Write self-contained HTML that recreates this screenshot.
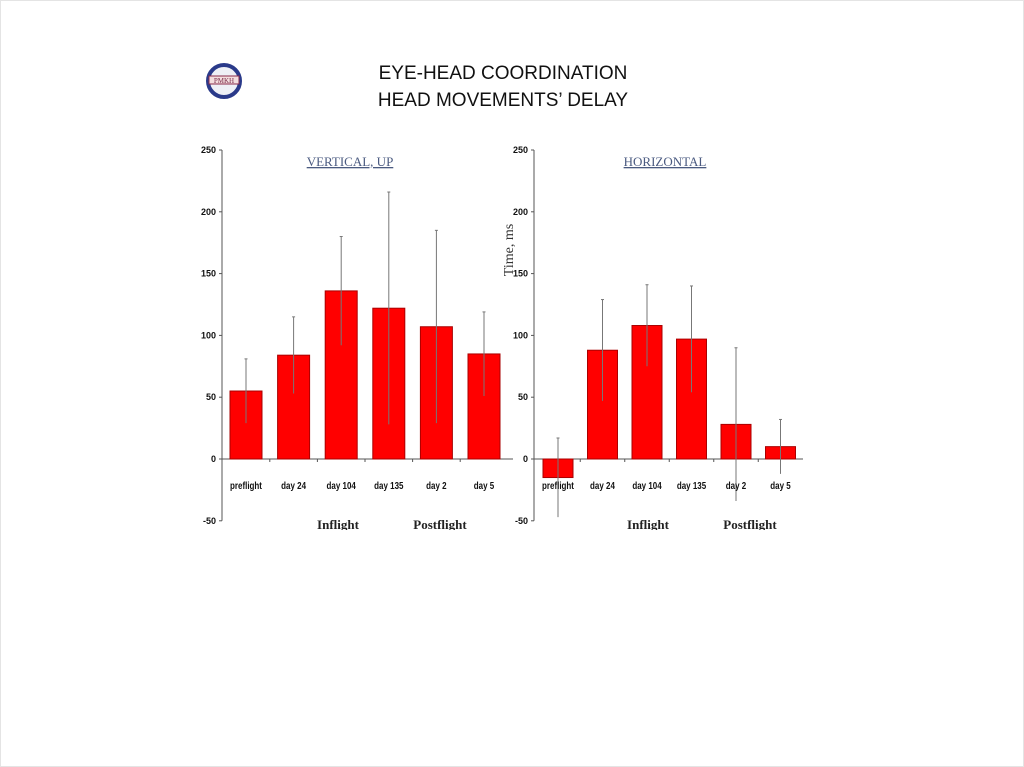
<!DOCTYPE html>
<html><head><meta charset="utf-8"><style>
html,body{margin:0;padding:0;background:#fff;}
body{width:1024px;height:767px;overflow:hidden;position:relative;}
svg{position:absolute;left:0;top:0;}
</style></head><body>
<svg id="chart" width="1024" height="767" xmlns="http://www.w3.org/2000/svg">
  <rect x="0.5" y="0.5" width="1023" height="766" fill="#fff" stroke="#e4e4e4"/>
  <g>
    <circle cx="224" cy="81" r="16" fill="#eef0f6" stroke="#2a3a8a" stroke-width="4"/>
    <rect x="209" y="76" width="30" height="8" fill="#f3dede" stroke="#8a2a4a" stroke-width="1"/>
    <text x="224" y="83" font-size="7" text-anchor="middle" fill="#7a2a4a" font-family="Liberation Serif, serif">PMKH</text>
  </g>
  <text x="503" y="79" font-size="19" text-anchor="middle" fill="#111" font-family="Liberation Sans, sans-serif">EYE-HEAD COORDINATION</text>
  <text x="503" y="106" font-size="19" text-anchor="middle" fill="#111" font-family="Liberation Sans, sans-serif">HEAD MOVEMENTS’ DELAY</text>
  <text transform="translate(513,250) rotate(-90)" font-size="14" text-anchor="middle" fill="#333" font-family="Liberation Serif, serif">Time, ms</text>
  <g id="left"></g>
  <g id="right"></g>
</svg>
<script>
const categories = ["preflight","day 24","day 104","day 135","day 2","day 5"];
const ticks = [250,200,150,100,50,0,-50];
const vertValues = [55,84,136,122,107,85];
const vertErrors = [26,31,44,94,78,34];
const horizValues = [-15,88,108,97,28,10];
const horizErrors = [32,41,33,43,62,22];

const NS = "http://www.w3.org/2000/svg";
function mk(tag, attrs, parent, txt){
  const e = document.createElementNS(NS, tag);
  for (const k in attrs) e.setAttribute(k, attrs[k]);
  if (txt !== undefined) e.textContent = txt;
  parent.appendChild(e);
  return e;
}
function yScale(v){ return 459 - v * 1.236; }

function panel(g, axisX, endX, firstCenter, step, barW, values, errors, title, titleX, groupX){
  const ax = mk("line",{x1:axisX,y1:yScale(250),x2:axisX,y2:yScale(-50),stroke:"#555","stroke-width":1},g);
  
  
  ticks.forEach(t=>{
    const y = yScale(t);
    mk("line",{x1:axisX-3,y1:y,x2:axisX,y2:y,stroke:"#555"},g);
    const lb = mk("text",{x:axisX-6,y:y+3,"font-size":9,"font-weight":"bold","text-anchor":"end",fill:"#111","font-family":"Liberation Sans Narrow, Liberation Sans, sans-serif"},g,String(t));
    
    
  });
  const xa = mk("line",{x1:axisX,y1:yScale(0),x2:endX,y2:yScale(0),stroke:"#555"},g);
  
  
  values.forEach((v,i)=>{
    const cx = firstCenter + i*step;
    const y0 = yScale(0), yv = yScale(v);
    const r = mk("rect",{x:cx-barW/2,y:Math.min(y0,yv),width:barW,height:Math.abs(y0-yv),fill:"#f00",stroke:"#a00","stroke-width":1},g);
    
    
    const e = mk("line",{x1:cx,y1:yScale(v+errors[i]),x2:cx,y2:yScale(v-errors[i]),stroke:"#777","stroke-width":1},g);
    
    
    mk("line",{x1:cx-1.5,y1:yScale(v+errors[i]),x2:cx+1.5,y2:yScale(v+errors[i]),stroke:"#777"},g);
    if (i>0) mk("line",{x1:cx-step/2,y1:y0,x2:cx-step/2,y2:y0+3,stroke:"#555"},g);
    const t = mk("text",{x:cx,y:489,"font-size":10,"font-weight":"bold","text-anchor":"middle",fill:"#111","font-family":"Liberation Sans Narrow, Liberation Sans, sans-serif",transform:`translate(${cx},0) scale(0.8,1) translate(${-cx},0)`},g,categories[i]);
    
    
  });
  const tt = mk("text",{x:titleX,y:166,"font-size":13,"text-anchor":"middle",fill:"#4a5a80","text-decoration":"underline","font-family":"Liberation Serif, serif"},g,title);
  
  
  const gi = mk("text",{x:groupX[0],y:529,"font-size":13,"font-weight":"bold","text-anchor":"middle",fill:"#222","font-family":"Liberation Serif, serif"},g,"Inflight");
  
  
  const gp = mk("text",{x:groupX[1],y:529,"font-size":13,"font-weight":"bold","text-anchor":"middle",fill:"#222","font-family":"Liberation Serif, serif"},g,"Postflight");
  
  
}
panel(document.getElementById("left"),222,513,246,47.6,32,vertValues,vertErrors,"VERTICAL, UP",350,[338,440]);
panel(document.getElementById("right"),534,803,558,44.5,30,horizValues,horizErrors,"HORIZONTAL",665,[648,750]);
const cover = document.createElementNS(NS,"rect");
cover.setAttribute("x",190);cover.setAttribute("y",530);cover.setAttribute("width",640);cover.setAttribute("height",20);cover.setAttribute("fill","#fff");


document.getElementById("chart").appendChild(cover);
</script>
</body></html>
